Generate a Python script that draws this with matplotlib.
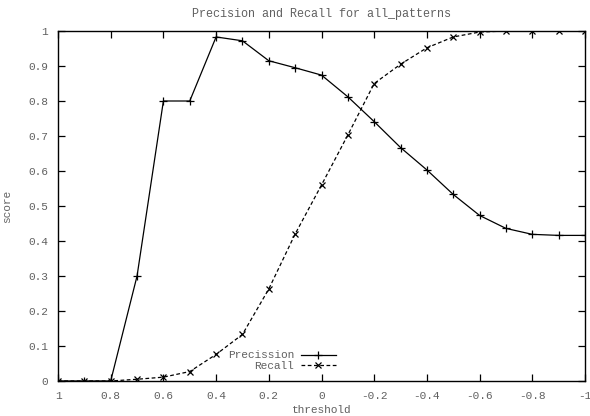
import matplotlib
matplotlib.use('Agg')
import matplotlib.pyplot as plt

# Datos
umbrales = [1.0, 0.9, 0.8, 0.7, 0.6, 0.5, 0.4, 0.3, 0.2, 0.1, 0.0,
            -0.1, -0.2, -0.3, -0.4, -0.5, -0.6, -0.7, -0.8, -0.9, -1.0]
precision = [0.0, 0.0, 0.0, 0.30, 0.80, 0.80, 0.983, 0.972, 0.915, 0.895, 0.874,
             0.812, 0.741, 0.667, 0.603, 0.533, 0.473, 0.436, 0.419, 0.416, 0.416]
recall = [0.0, 0.0, 0.0, 0.005, 0.011, 0.027, 0.076, 0.133, 0.263, 0.42, 0.56,
          0.703, 0.850, 0.905, 0.952, 0.983, 0.997, 1.0, 1.0, 1.0, 1.0]
xticks = [1, 0.8, 0.6, 0.4, 0.2, 0, -0.2, -0.4, -0.6, -0.8, -1]
yticks = [0, 0.1, 0.2, 0.3, 0.4, 0.5, 0.6, 0.7, 0.8, 0.9, 1]

gris = '#606060'
fuente = 'Liberation Mono'

fig = plt.figure(figsize=(5.9, 4.16), dpi=100)
ax = fig.add_axes([58 / 590, 1 - 381 / 416, 527 / 590, 350 / 416])

ax.plot(umbrales, precision, color='black', lw=0.9, marker='+', ms=6, mew=0.9,
        label='Precission')
ax.plot(umbrales, recall, color='black', lw=0.9, ls=(0, (3, 2)), marker='x', ms=5,
        mew=0.9, label='Recall')

ax.set_xlim(1, -1)
ax.set_ylim(0, 1)
ax.set_xticks(xticks)
ax.set_xticklabels(['1', '0.8', '0.6', '0.4', '0.2', '0', '-0.2', '-0.4', '-0.6', '-0.8', '-1'])
ax.set_yticks(yticks)
ax.set_yticklabels(['0', '0.1', '0.2', '0.3', '0.4', '0.5', '0.6', '0.7', '0.8', '0.9', '1'])
ax.tick_params(direction='in', length=5, width=0.9, top=True, right=True,
               labelsize=8, labelcolor=gris, pad=7)
for lab in ax.get_xticklabels() + ax.get_yticklabels():
    lab.set_family(fuente)
for s in ax.spines.values():
    s.set_linewidth(1.0)

ax.set_title('Precision and Recall for all_patterns', fontsize=8.5, family=fuente,
             color=gris, pad=10)
ax.set_xlabel('threshold', fontsize=8, family=fuente, color=gris, labelpad=3)
ax.set_ylabel('score', fontsize=8, family=fuente, color=gris, labelpad=12)

ley = ax.legend(loc='lower center', bbox_to_anchor=(0.425, 0.0), frameon=False,
                markerfirst=False, handlelength=3.2, handletextpad=0.6,
                labelspacing=0.05, prop={'family': fuente, 'size': 8})
for t in ley.get_texts():
    t.set_color(gris)
    t.set_ha('right')

fig.savefig('out.png', dpi=100)
